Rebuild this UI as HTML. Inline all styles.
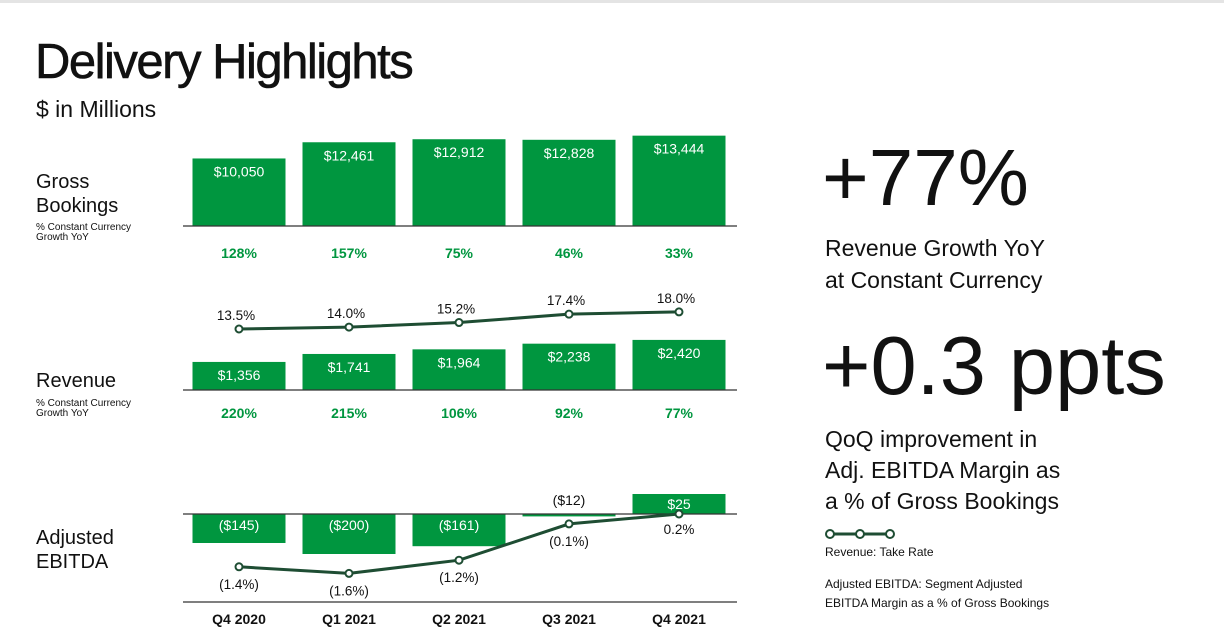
<!DOCTYPE html>
<html><head><meta charset="utf-8"><style>
body{margin:0;width:1224px;height:635px;background:#fff;font-family:"Liberation Sans",sans-serif;color:#111;overflow:hidden;position:relative}
.t{position:absolute;white-space:nowrap}
</style></head><body>
<div style="position:absolute;left:0;top:0;width:1224px;height:3px;background:#e4e4e4"></div>
<div class="t" style="left:35px;top:34px;font-size:49px;letter-spacing:-1.5px;font-weight:500;-webkit-text-stroke:0.6px #111">Delivery Highlights</div>
<div class="t" style="left:36px;top:96px;font-size:23px">$ in Millions</div>
<div class="t" style="left:36px;top:170px;font-size:20px;line-height:24px">Gross<br>Bookings</div>
<div class="t" style="left:36px;top:223px;font-size:10px;line-height:10px">% Constant Currency<br>Growth YoY</div>
<div class="t" style="left:36px;top:370px;font-size:20px">Revenue</div>
<div class="t" style="left:36px;top:399px;font-size:10px;line-height:10px">% Constant Currency<br>Growth YoY</div>
<div class="t" style="left:36px;top:526px;font-size:20px;line-height:24px">Adjusted<br>EBITDA</div>

<div class="t" style="left:822px;top:132px;font-size:80px">+77%</div>
<div class="t" style="left:825px;top:232px;font-size:23px;line-height:32px">Revenue Growth YoY<br>at Constant Currency</div>
<div class="t" style="left:822px;top:318px;font-size:83px">+0.3 ppts</div>
<div class="t" style="left:825px;top:424px;font-size:23px;line-height:31px">QoQ improvement in<br>Adj. EBITDA Margin as<br>a % of Gross Bookings</div>
<svg class="t" style="left:824px;top:527px" width="72" height="14"><line x1="2" y1="7" x2="68" y2="7" stroke="#1e4d33" stroke-width="3"/><circle cx="6" cy="7" r="4" fill="#fff" stroke="#1e4d33" stroke-width="2"/><circle cx="36" cy="7" r="4" fill="#fff" stroke="#1e4d33" stroke-width="2"/><circle cx="66" cy="7" r="4" fill="#fff" stroke="#1e4d33" stroke-width="2"/></svg>
<div class="t" style="left:825px;top:545px;font-size:12px">Revenue: Take Rate</div>
<div class="t" style="left:825px;top:575px;font-size:12px;line-height:19px">Adjusted EBITDA: Segment Adjusted<br>EBITDA Margin as a % of Gross Bookings</div>

<svg id="chart" style="position:absolute;left:0;top:0" width="1224" height="635"></svg>
<script>
const quarters=["Q4 2020","Q1 2021","Q2 2021","Q3 2021","Q4 2021"];
const grossBookings=[10050,12461,12912,12828,13444];
const gbLabels=["$10,050","$12,461","$12,912","$12,828","$13,444"];
const gbGrowth=["128%","157%","75%","46%","33%"];
const revenue=[1356,1741,1964,2238,2420];
const revLabels=["$1,356","$1,741","$1,964","$2,238","$2,420"];
const revGrowth=["220%","215%","106%","92%","77%"];
const takeRate=[13.5,14.0,15.2,17.4,18.0];
const takeRateLabels=["13.5%","14.0%","15.2%","17.4%","18.0%"];
const ebitda=[-145,-200,-161,-12,25];
const ebitdaLabels=["($145)","($200)","($161)","($12)","$25"];
const margin=[-1.4,-1.6,-1.2,-0.1,0.2];
const marginLabels=["(1.4%)","(1.6%)","(1.2%)","(0.1%)","0.2%"];

const svg=document.getElementById('chart');
const NS="http://www.w3.org/2000/svg";
const G="#00963f",D="#1e4d33";
function xc(i){return 239+i*110;}
const BW=93;
function yGB(v){return 226-v*0.00672;}
function yRev(v){return 390-v*0.0207;}
function yEb(v){return v<0?514-v*0.2:514-v*0.8;}
function yTR(v){return 329-(v-13.5)*3.8;}
function yM(v){return 514-(v-0.2)*33;}
function mk(tag,attrs){const e=document.createElementNS(NS,tag);for(const k in attrs)e.setAttribute(k,attrs[k]);svg.appendChild(e);return e;}
function txt(x,y,s,size,fill,weight){const e=mk('text',{x:x,y:y,'text-anchor':'middle','font-size':size,fill:fill,'font-weight':weight||'normal','font-family':'Liberation Sans, sans-serif'});e.textContent=s;return e;}

quarters.forEach((q,i)=>{
  const x=xc(i)-BW/2;
  let r=mk('rect',{x:x,y:yGB(grossBookings[i]),width:BW,height:226-yGB(grossBookings[i]),fill:G});
  
  
  let t=txt(xc(i),yGB(grossBookings[i])+18,gbLabels[i],14,'#fff');
  
  
  t=txt(xc(i),258,gbGrowth[i],14,G,'bold');
  
  
  r=mk('rect',{x:x,y:yRev(revenue[i]),width:BW,height:390-yRev(revenue[i]),fill:G});
  
  
  t=txt(xc(i),yRev(revenue[i])+18,revLabels[i],14,'#fff');
  
  
  t=txt(xc(i),418,revGrowth[i],14,G,'bold');
  
  
  const v=ebitda[i],y0=Math.min(yEb(v),514),h=Math.abs(yEb(v)-514);
  r=mk('rect',{x:x,y:y0,width:BW,height:Math.max(h,2),fill:G});
  
  
  let ly,col='#fff';
  if(v<0&&h>15)ly=530;else if(v<0){ly=505;col='#111';}else ly=y0+15;
  t=txt(xc(i),ly,ebitdaLabels[i],14,col);
  
  
  t=txt(xc(i),624,q,14,'#111','bold');
  
  
});
[226,390,514,602].forEach(y=>{
  const l=mk('line',{x1:183,x2:737,y1:y,y2:y,stroke:'#333','stroke-width':1.3});
  
  
});
function line(vals,yf,labels,name,below){
  const p=mk('polyline',{points:vals.map((v,i)=>xc(i)+','+yf(v)).join(' '),fill:'none',stroke:D,'stroke-width':3});
  
  
  vals.forEach((v,i)=>{
    const c=mk('circle',{cx:xc(i),cy:yf(v),r:3.5,fill:'#fff',stroke:D,'stroke-width':2});
    
    
    const t=txt(xc(i)-(below?0:3),below?yf(v)+(v>0?20:22):yf(v)-9,labels[i],13.5,'#111');
    
    
  });
}
line(takeRate,yTR,takeRateLabels,'take-rate',false);
line(margin,yM,marginLabels,'ebitda-margin',true);
</script>
</body></html>
